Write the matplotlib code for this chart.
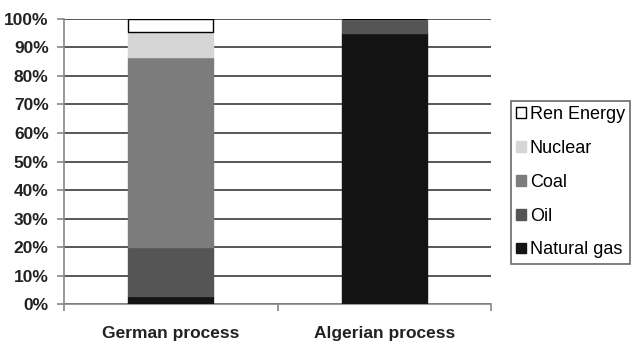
import matplotlib.pyplot as plt
import numpy as np

plt.rcParams['font.family'] = ['Liberation Sans', 'DejaVu Sans']

processes = ['German process', 'Algerian process']
sources = ['Natural gas', 'Oil', 'Coal', 'Nuclear', 'Ren Energy']
natural_gas = [3.0, 95.0]
oil = [17.0, 5.0]
coal = [66.5, 0.0]
nuclear = [9.0, 0.0]
ren_energy = [4.5, 0.0]
yticks = np.arange(0, 101, 10)

colors = ['#141414', '#555555', '#7c7c7c', '#d6d6d6', 'white']
edges = ['#141414', '#555555', '#7c7c7c', '#d6d6d6', 'black']

fig = plt.figure(figsize=(6.33, 3.44), dpi=100)
ax = fig.add_axes([0.101, 0.116, 0.675, 0.829])

x = np.arange(len(processes))
bottom = np.zeros(len(processes))
handles = []
for vals, name, c, ec in zip([natural_gas, oil, coal, nuclear, ren_energy],
                             sources, colors, edges):
    b = ax.bar(x, vals, 0.4, bottom=bottom, color=c, edgecolor=ec,
               linewidth=1.0, label=name, zorder=3)
    handles.append(b)
    bottom += np.array(vals)

ax.set_xlim(-0.5, 1.5)
ax.set_ylim(0, 100)
ax.set_yticks(yticks)
ax.set_yticklabels([f'{v}%' for v in yticks], fontsize=12.5, fontweight='bold',
                   color='#222222')
ax.yaxis.grid(True, color='#2a2a2a', linewidth=1.1, zorder=0)
ax.set_axisbelow(True)

ax.set_xticks(x)
ax.set_xticklabels(processes, fontsize=12.5, fontweight='bold', color='#222222')
ax.set_xticks([-0.5, 0.5, 1.5], minor=True)
ax.tick_params(axis='x', which='major', length=0, pad=16)
ax.tick_params(axis='x', which='minor', length=5, color='#888888', width=1.2)
ax.tick_params(axis='y', length=5, color='#888888', width=1.2, pad=6)

for s in ['top', 'right']:
    ax.spines[s].set_visible(False)
for s in ['left', 'bottom']:
    ax.spines[s].set_color('#888888')
    ax.spines[s].set_linewidth(1.2)

leg = fig.legend(handles[::-1], sources[::-1], loc='center left',
                 bbox_to_anchor=(0.807, 0.47), fontsize=13, frameon=True,
                 fancybox=False, handlelength=0.55, handleheight=0.55,
                 handletextpad=0.2, labelspacing=0.93, borderpad=0.3,
                 borderaxespad=0)
leg.get_frame().set_edgecolor('#444444')
leg.get_frame().set_linewidth(1.2)

fig.savefig('out.png', dpi=100)
